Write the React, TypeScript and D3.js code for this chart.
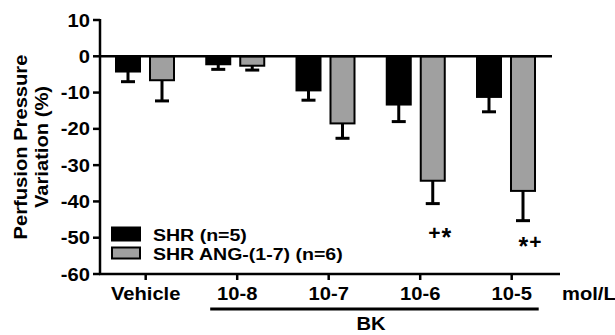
import * as d3 from "d3";

const categories = ["Vehicle", "10-8", "10-7", "10-6", "10-5"];
const seriesKeys = ["shr", "ang"];
const seriesNames = ["SHR (n=5)", "SHR ANG-(1-7) (n=6)"];
const seriesFill = ["#000000", "#a0a0a0"];
const shrMean = [-4.2, -2.2, -9.4, -13.3, -11.2];
const shrErr = [2.8, 1.4, 2.7, 4.7, 4.1];
const angMean = [-6.6, -2.6, -18.5, -34.3, -37.1];
const angErr = [5.7, 1.2, 4.1, 6.3, 8.2];
const yTicks = [10, 0, -10, -20, -30, -40, -50, -60];
const marks = [
  { cat: "10-6", text: "+*", value: -48.5 },
  { cat: "10-5", text: "*+", value: -51 },
];

const FONT = "'Liberation Sans', Arial, Helvetica, sans-serif";

export default function App() {
  const W = 615;
  const H = 335;
  const mg = { top: 20, left: 100, bottom: 274, right: 560 };

  const y = d3.scaleLinear([-60, 10], [mg.bottom, mg.top]);
  const xGroup = d3.scalePoint(categories, [145, 506]);
  const xTick = d3.scalePoint(categories, [145.7, 511.7]);
  const xInner = d3.scaleBand(seriesKeys, [-29, 29]).paddingInner(0.294);
  const bw = xInner.bandwidth();

  const means = [shrMean, angMean];
  const errs = [shrErr, angErr];
  const sx = 1.12;

  return (
    <svg
      width={W}
      height={H}
      viewBox={`0 0 ${W} ${H}`}
      style={{ position: "absolute", left: 0, top: 0, background: "#fff" }}
      fontFamily={FONT}
      fontWeight="bold"
    >
      {/* y axis title */}
      <text
        transform={`translate(27, 147) rotate(-90) scale(${sx},1)`}
        textAnchor="middle"
        fontSize="18"
      >
        Perfusion Pressure
      </text>
      <text
        transform={`translate(48, 147) rotate(-90) scale(${sx},1)`}
        textAnchor="middle"
        fontSize="18"
      >
        Variation (%)
      </text>

      {/* y axis */}
      <line x1={mg.left} x2={mg.left} y1={mg.top - 1} y2={mg.bottom + 1} stroke="#000" strokeWidth={2.5} />
      {yTicks.map((t) => (
        <g key={t}>
          <line x1={mg.left - 7} x2={mg.left} y1={y(t)} y2={y(t)} stroke="#000" strokeWidth={2.5} />
          <text
            transform={`translate(${mg.left - 10}, ${y(t) + 6.5}) scale(${sx},1)`}
            textAnchor="end"
            fontSize="18"
          >
            {t}
          </text>
        </g>
      ))}

      {/* bars */}
      {categories.map((c, i) => (
        <g key={c}>
          {seriesKeys.map((k, s) => {
            const v = means[s][i];
            const e = errs[s][i];
            const bx = (xGroup(c) ?? 0) + (xInner(k) ?? 0);
            const cx = bx + bw / 2;
            return (
              <g key={k}>
                <line x1={cx} x2={cx} y1={y(v)} y2={y(v - e)} stroke="#000" strokeWidth={3} />
                <line x1={cx - 7} x2={cx + 7} y1={y(v - e)} y2={y(v - e)} stroke="#000" strokeWidth={3} />
                <rect
                  x={bx}
                  y={y(0)}
                  width={bw}
                  height={y(v) - y(0)}
                  fill={seriesFill[s]}
                  stroke="#000"
                  strokeWidth={2}
                />
              </g>
            );
          })}
        </g>
      ))}

      {/* zero line */}
      <line x1={mg.left} x2={552} y1={y(0)} y2={y(0)} stroke="#000" strokeWidth={2.5} />

      {/* significance marks: the star is dropped to sit level with the plus */}
      {marks.map((m) => (
        <text
          key={m.cat}
          x={(xGroup(m.cat) ?? 0) + (xInner("ang") ?? 0) + bw / 2 + 7}
          y={y(m.value) + 7.5}
          textAnchor="middle"
          fontSize="20"
        >
          {m.text.split("").map((ch, j, arr) => {
            const prevStar = j > 0 && arr[j - 1] === "*";
            const dy = ch === "*" ? 6 : prevStar ? -6 : 0;
            return (
              <tspan key={j} dy={dy} dx={j > 0 ? 1 : 0} fontSize={ch === "*" ? 25 : 21}>
                {ch}
              </tspan>
            );
          })}
        </text>
      ))}

      {/* legend */}
      {seriesNames.map((n, s) => (
        <g key={n} transform={`translate(112, ${227.5 + s * 20})`}>
          <rect x={0} y={0} width={28} height={s === 0 ? 13 : 11} fill={seriesFill[s]} stroke="#000" strokeWidth={2} />
          <text transform={`translate(41, ${s === 0 ? 13 : 12}) scale(1.15,1)`} fontSize="17">
            {n}
          </text>
        </g>
      ))}

      {/* x axis */}
      <line x1={mg.left - 1} x2={mg.right} y1={mg.bottom} y2={mg.bottom} stroke="#000" strokeWidth={2.5} />
      {categories.map((c) => (
        <g key={c}>
          <line x1={xTick(c)} x2={xTick(c)} y1={mg.bottom} y2={mg.bottom + 6} stroke="#000" strokeWidth={2.5} />
          <text
            transform={`translate(${xTick(c)}, 300) scale(${sx},1)`}
            textAnchor="middle"
            fontSize="18"
          >
            {c}
          </text>
        </g>
      ))}
      <text transform={`translate(562, 300) scale(${sx},1)`} fontSize="18">
        mol/L
      </text>

      {/* BK bracket */}
      <line
        x1={(xTick("10-8") ?? 0) - 27}
        x2={(xTick("10-5") ?? 0) + 27}
        y1={309}
        y2={309}
        stroke="#000"
        strokeWidth={3}
      />
      <text transform={`translate(371, 330) scale(${sx},1)`} textAnchor="middle" fontSize="18">
        BK
      </text>
    </svg>
  );
}
